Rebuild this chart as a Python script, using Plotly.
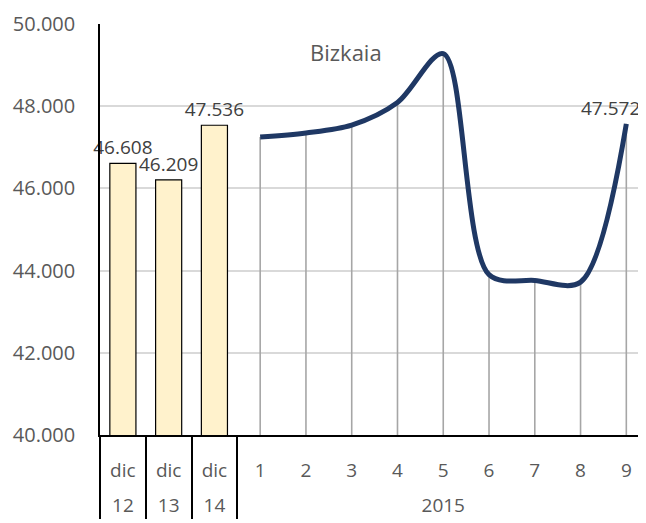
import plotly.graph_objects as go

# Data
bar_years = ["12", "13", "14"]
bar_months = ["dic", "dic", "dic"]
bar_values = [46608, 46209, 47536]

line_year = "2015"
line_months = ["1", "2", "3", "4", "5", "6", "7", "8", "9"]
line_values = [47250, 47350, 47540, 48090, 49280, 43900, 43760, 43720, 47572]

y_min, y_max, y_step = 40000, 50000, 2000
title_text = "Bizkaia"

GREY_TXT = "#595959"
FONT = "Open Sans"


def fmt(v):
    return f"{v:,}".replace(",", ".")


# outer category labels get a blank leading line to push them lower
outer_bar = ["<br>" + y for y in bar_years]
outer_line = "<br>" + line_year

fig = go.Figure()

fig.add_trace(go.Bar(
    x=[outer_bar, bar_months],
    y=bar_values,
    marker=dict(color="#FFF2CC", line=dict(color="#000000", width=1.2)),
    width=0.57,
    text=[fmt(v) for v in bar_values],
    textposition="outside",
    constraintext="none",
    textfont=dict(size=19, color="#404040", family=FONT),
    cliponaxis=False,
    showlegend=False,
))

# drop lines from each line point down to the axis
fig.add_trace(go.Scatter(
    x=[[outer_line] * len(line_months), line_months],
    y=line_values,
    mode="markers",
    marker=dict(size=1, color="rgba(0,0,0,0)"),
    error_y=dict(type="data", symmetric=False,
                 array=[0] * len(line_values),
                 arrayminus=[v - y_min for v in line_values],
                 color="#A6A6A6", thickness=1.6, width=0),
    hoverinfo="skip",
    showlegend=False,
))

fig.add_trace(go.Scatter(
    x=[[outer_line] * len(line_months), line_months],
    y=line_values,
    mode="lines",
    line=dict(color="#1F3864", width=5, shape="spline", smoothing=0.9),
    cliponaxis=False,
    showlegend=False,
))

n_cat = len(bar_values) + len(line_values)
fig.add_annotation(
    x=n_cat - 1, y=line_values[-1], xref="x", yref="y",
    text=fmt(line_values[-1]), showarrow=False,
    xanchor="center", yanchor="bottom", xshift=-16, yshift=1,
    font=dict(size=19, color="#404040", family=FONT),
)

fig.add_annotation(
    text=title_text, xref="paper", yref="paper", x=0.45, y=0.932,
    xanchor="center", yanchor="middle", showarrow=False,
    font=dict(size=22, color=GREY_TXT, family=FONT),
)

# page body has an 8px margin: shrink figure and margins to compensate
fig.update_layout(
    width=638, height=515,
    margin=dict(l=92, r=0, t=16, b=88),
    plot_bgcolor="white", paper_bgcolor="white",
    separators=",.",
    font=dict(family=FONT, color=GREY_TXT),
)

fig.update_yaxes(
    range=[y_min, y_max], dtick=y_step, tickformat=",d",
    showgrid=True, gridcolor="#D9D9D9", gridwidth=1.5,
    showline=True, linecolor="#000000", linewidth=1.5,
    zeroline=False, ticks="", ticklabelstandoff=19,
    automargin=False,
    tickfont=dict(size=20, color=GREY_TXT, family=FONT),
)

fig.update_xaxes(
    type="multicategory",
    range=[-0.5, 11.43],
    showline=True, linecolor="#000000", linewidth=1.5,
    showgrid=False, ticks="", ticklabelstandoff=17,
    automargin=False,
    showdividers=True, dividercolor="#000000", dividerwidth=1.5,
    tickfont=dict(size=19, color=GREY_TXT, family=FONT),
)

fig.write_html("out.html")
